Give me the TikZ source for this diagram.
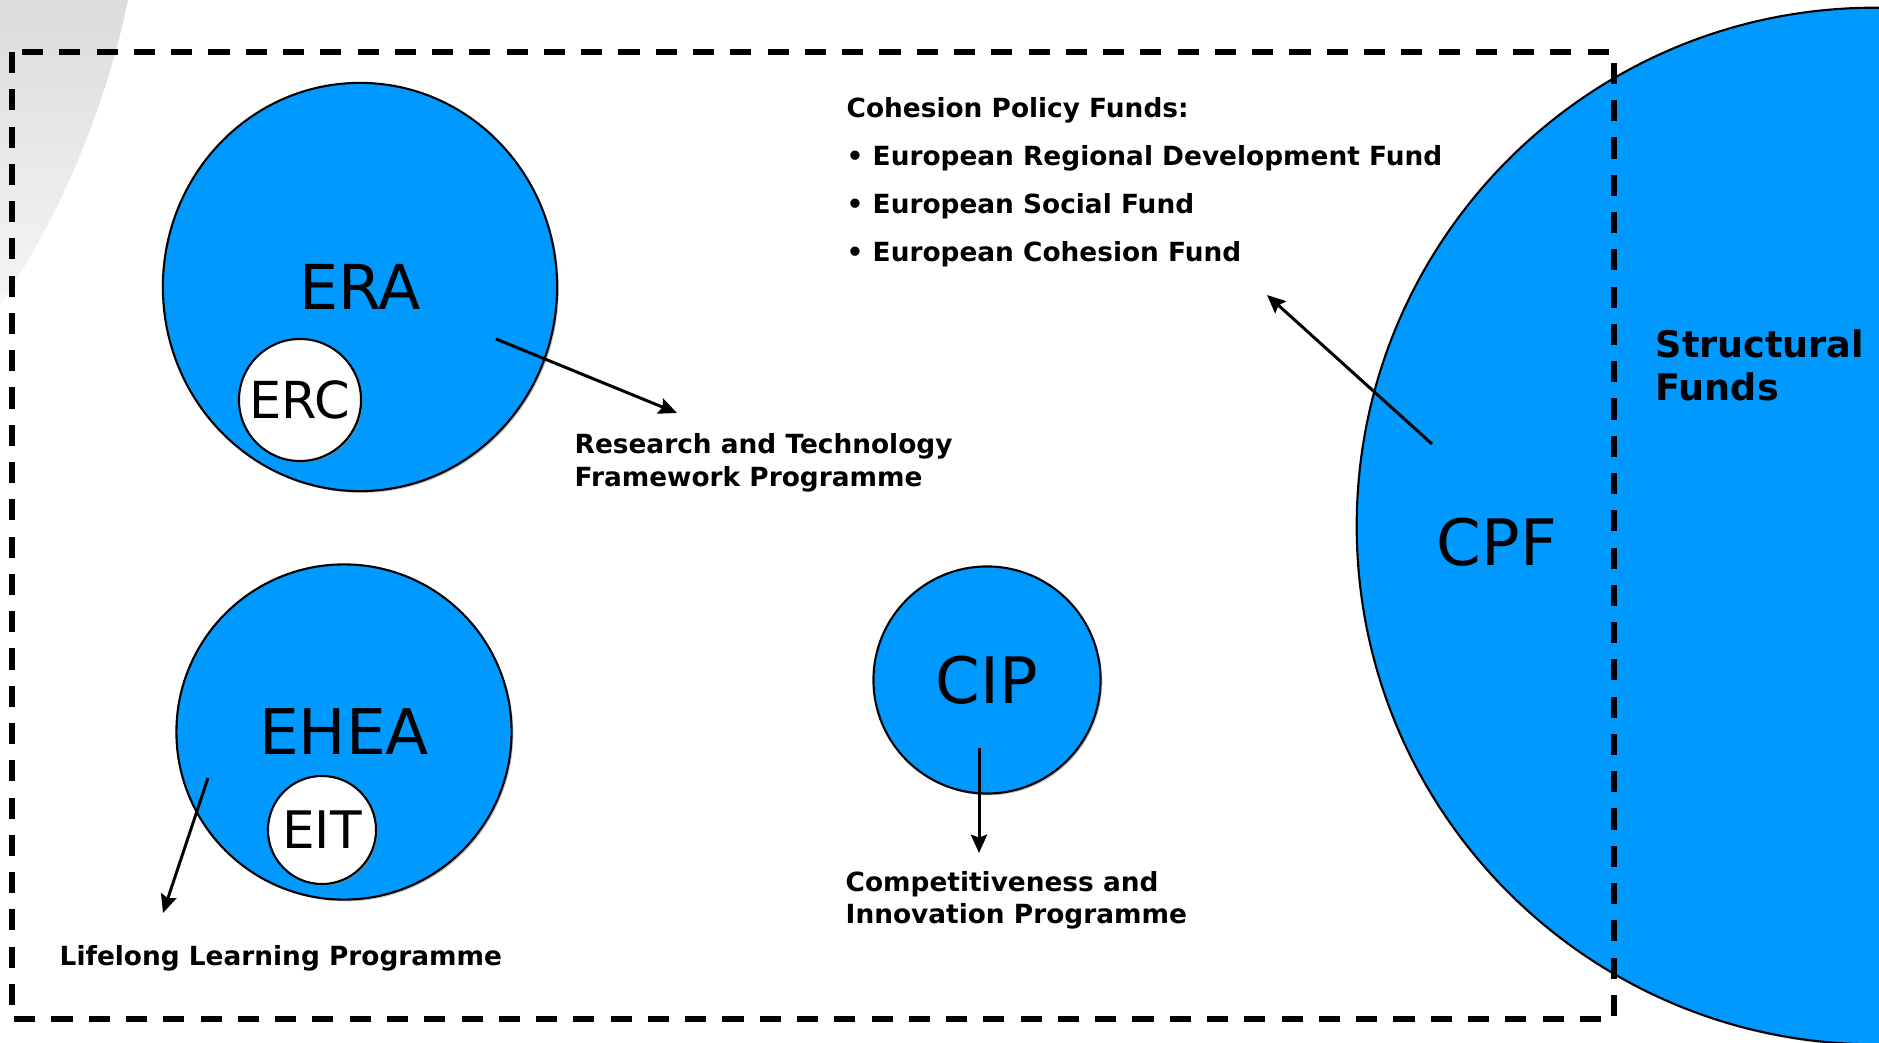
\documentclass[tikz,border=0pt]{standalone}
\usepackage{fontspec}
\setmainfont{DejaVu Sans}
\usetikzlibrary{arrows.meta,shadows,shapes.geometric,positioning}
\definecolor{fundblue}{RGB}{0,153,255}

\tikzset{
	bubble/.style={circle,draw=black,line width=0.6pt,fill=fundblue,inner sep=0pt,
		drop shadow={shadow xshift=0.5pt,shadow yshift=-0.5pt,fill=black!45}},
	hole/.style={bubble,fill=white},
	tag/.style={font=\fontsize{#1}{#1}\selectfont},
	note/.style={anchor=base west,align=left,inner sep=0pt,
		font=\fontsize{7.5}{9.1}\selectfont\bfseries},
	link/.style={-{Stealth[length=5.2pt,width=4.6pt,inset=0.8pt]},line width=0.85pt},
}

\begin{document}
\begin{tikzpicture}[x=0.01cm,y=-0.01cm,line cap=butt,line join=miter]
	\useasboundingbox (0,0) rectangle (1879,1043);
	\clip (0,0) rectangle (1879,1043);
	
	% grey corner
	\shade[top color=black!14,bottom color=black!4]
		(0,0) -- (128,0) .. controls (107,100) and (67,205) .. (0,305) -- cycle;
	
	% cohesion policy disc, cut by the frame
	\node[bubble,minimum size=10.36cm] (cpf) at (1875,526) {};
	\node[tag=18.2] (cpf-name) at (1497,542) {CPF};
	\node[note,font=\fontsize{10.4}{12.5}\selectfont\bfseries] (sf) at (1655,401) {Structural\\Funds};
	
	\draw[line width=1.5pt,dash pattern=on 6pt off 4.6pt] (12,52) rectangle (1614,1019);
	
	% research
	\node[bubble,ellipse,minimum width=3.94cm,minimum height=4.08cm,tag=17.6] (era) at (360,287) {ERA};
	\node[hole,minimum size=1.22cm,tag=14.5] (erc) at (300,400) {ERC};
	
	% education
	\node[bubble,minimum size=3.35cm,tag=17.9] (ehea) at (344,732) {EHEA};
	\node[hole,minimum size=1.08cm,tag=14.7] (eit) at (322,830) {EIT};
	
	% innovation
	\node[bubble,minimum size=2.27cm,tag=18.2] (cip) at (987,680) {CIP};
	
	% programme labels (base = last line)
	\node[note] (rtfp) at (574,486) {Research and Technology\\Framework Programme};
	\node[note] (llp) at (59,965) {Lifelong Learning Programme};
	\node[note] (cipp) at (845,923) {Competitiveness and\\Innovation Programme};
	\node[note,font=\fontsize{7.5}{13.66}\selectfont\bfseries] (funds) at (846,262)
		{Cohesion Policy Funds:\\• European Regional Development Fund\\• European Social Fund\\• European Cohesion Fund};
	
	\coordinate (era-tail) at (496,339);
	\coordinate (rtfp-tip) at (677,413);
	\coordinate (ehea-tail) at (208,778);
	\coordinate (llp-tip) at (163,913);
	\coordinate (cip-tail) at (979,748);
	\coordinate (cipp-tip) at (979,853);
	\coordinate (cpf-tail) at (1432,444);
	\coordinate (funds-tip) at (1267,295);
	
	\draw[link] (era-tail) -- (rtfp-tip);
	\draw[link] (ehea-tail) -- (llp-tip);
	\draw[link] (cip-tail) -- (cipp-tip);
	\draw[link] (cpf-tail) -- (funds-tip);
\end{tikzpicture}
\end{document}
